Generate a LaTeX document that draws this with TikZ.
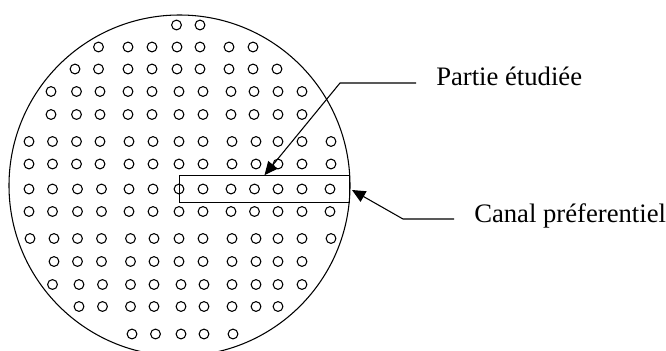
\documentclass[tikz,border=0pt]{standalone}
\usepackage{fontspec}
\setmainfont{Liberation Serif}
\usetikzlibrary{arrows.meta}
\tikzset{
    tube/.style={draw,line width=0.8pt},
    fleche/.style={line width=0.8pt,-{Triangle[length=10pt,width=9pt]}},
    legende/.style={anchor=base west,inner sep=0pt,font=\fontsize{20}{24}\selectfont}
}
\begin{document}
\begin{tikzpicture}[x=0.75pt,y=-0.75pt]

    % Page and outline
    \useasboundingbox (0,0) rectangle (666,350);
    \clip (0,0) rectangle (666,350);
    \draw[line width=0.8pt] (179.5,185.5) circle (170.5);

    % Tubes, row by row
    \foreach \y/\xlist in {%
        25/{176.5,200},%
        47/{98.5,128,152,177,200,229,253},%
        69/{75,98.5,128,152,177,200,229,253,277},%
        91.5/{51,76.5,100,128,152,179,203,231,254,278,302},%
        114.5/{51,76.5,100,128,152,179,203,231,254,278,302},%
        141.5/{29,52.5,76.5,100,129,153,179,203,232,256,278,302,331},%
        164/{29,52.5,76.5,100,129,153,179,203,232,256,278,302,331},%
        189/{29,52.5,77.5,101.5,129,153,179,203,231,254.5,278,302,330},%
        211.5/{29,52.5,77.5,101.5,129,153,179,203,231,254.5,278,302,330},%
        238.5/{30,54,77.5,101.5,130.5,154,179,203,232,256,278,302,331},%
        261.5/{54,77.5,101.5,130.5,154,179,203,232,256,278,302},%
        284.5/{52.5,79,102.5,130.5,154,181,204,232,256,278,302},%
        306.5/{79,102.5,130.5,154,181,204,232,256,278},%
        334/{132,155.5,181,204,233}%
    }{
        \foreach \x in \xlist {
            \draw[tube] (\x,\y) circle (4.9);
        }
    }

    % Channel box
    \node[draw,line width=0.8pt,minimum width=128pt,minimum height=20pt,inner sep=0pt] (canal) at (264.5,189) {};

    % Labels
    \node[legende] (partie) at (436,85) {Partie étudiée};
    \node[legende] (pref) at (474,222) {Canal préferentiel};

    % Leaders
    \coordinate (finA) at (416,83);
    \coordinate (coudeA) at (340,83);
    \coordinate (finB) at (454,219);
    \coordinate (coudeB) at (403,219);
    \coordinate (pointeB) at (352,190);
    \draw[fleche] (finA) -- (coudeA) -- (canal.north);
    \draw[fleche] (finB) -- (coudeB) -- (pointeB);
\end{tikzpicture}
\end{document}
